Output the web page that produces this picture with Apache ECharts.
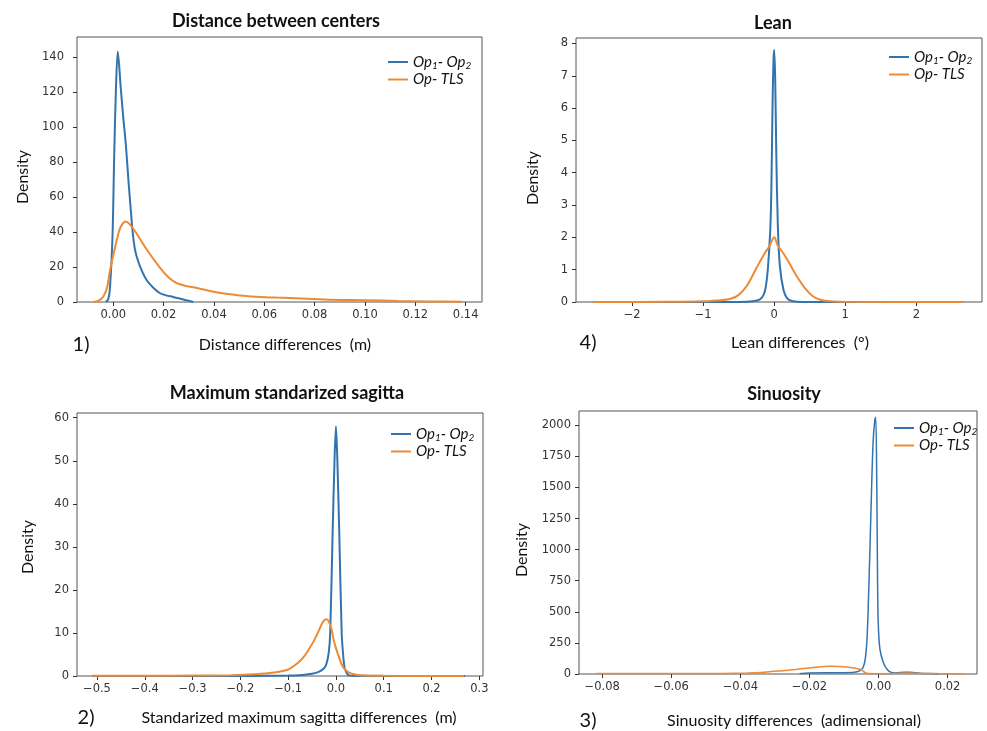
<!DOCTYPE html>
<html>
<head>
<meta charset="utf-8">
<script src="https://cdn.jsdelivr.net/npm/echarts@6/dist/echarts.min.js"></script>
<style>
  html, body { margin: 0; padding: 0; background: #fff; }
  #chart { width: 987px; height: 731px; }
</style>
</head>
<body>
<div id="chart"></div>
<script type="application/javascript">
// series names
const nameA = 'Op1- Op2';
const nameB = 'Op- TLS';

// 1) Distance between centers
const distOpOp = [[-0.003,0],[-0.002,1.5],[-0.0013,8],[-0.0003,37],[0.0004,85],[0.0011,123],[0.0018,143],[0.003,122],[0.004,105],[0.005,90],[0.006,70],[0.007,52],[0.0077,40],[0.0085,31],[0.0093,26],[0.0110,19],[0.0133,12.4],[0.0160,8],[0.0186,5],[0.0210,3.8],[0.0238,2.9],[0.0270,1.7],[0.0300,0.7],[0.0318,0]];
const distOpTls = [[-0.008,0],[-0.006,0.6],[-0.004,3],[-0.0025,8],[-0.0013,18],[0.0007,31],[0.0027,42],[0.0049,46],[0.0065,44.5],[0.0093,39],[0.0133,30],[0.0186,19.5],[0.0220,14],[0.0252,10.8],[0.0285,9.3],[0.0318,8.4],[0.0350,7.4],[0.0384,6.3],[0.0420,5.3],[0.0450,4.7],[0.0517,3.6],[0.0583,2.9],[0.0650,2.5],[0.0750,2.0],[0.0870,1.3],[0.1000,1.0],[0.1130,0.6],[0.1250,0.35],[0.1385,0.2]];
const distTicksX = [0, 0.02, 0.04, 0.06, 0.08, 0.10, 0.12, 0.14];
const distTicksY = [0, 20, 40, 60, 80, 100, 120, 140];

// 4) Lean
const leanOpOp = [[-2.55,0],[-0.5,0],[-0.3,0.02],[-0.2,0.08],[-0.15,0.22],[-0.12,0.45],[-0.09,1.0],[-0.056,2.2],[-0.04,3.5],[-0.024,6.0],[-0.01,7.5],[0,7.8],[0.014,6.9],[0.03,4.5],[0.052,2.3],[0.08,1.1],[0.13,0.38],[0.18,0.12],[0.25,0.03],[0.4,0],[2.65,0]];
const leanOpTls = [[-2.55,0],[-1.5,0.005],[-1.0,0.02],[-0.8,0.05],[-0.62,0.09],[-0.5,0.22],[-0.38,0.52],[-0.25,1.05],[-0.15,1.45],[-0.07,1.72],[0,2.0],[0.05,1.75],[0.13,1.5],[0.2,1.25],[0.32,0.79],[0.45,0.38],[0.55,0.17],[0.65,0.07],[0.8,0.02],[1.0,0.005],[2.65,0]];
const leanTicksX = [-2, -1, 0, 1, 2];
const leanTicksY = [0, 1, 2, 3, 4, 5, 6, 7, 8];

// 2) Maximum standarized sagitta
const sagOpOp = [[-0.51,0],[-0.2,0.02],[-0.1,0.1],[-0.07,0.25],[-0.05,0.5],[-0.035,1.0],[-0.025,1.8],[-0.02,2.8],[-0.015,5.5],[-0.012,10],[-0.007,33],[-0.003,50],[0,58],[0.003,50],[0.007,33],[0.012,10],[0.015,5],[0.018,2],[0.022,0.8],[0.026,0.2],[0.035,0.05],[0.27,0]];
const sagOpTls = [[-0.51,0.03],[-0.4,0.05],[-0.3,0.1],[-0.22,0.2],[-0.17,0.4],[-0.13,0.8],[-0.1,1.5],[-0.08,3],[-0.066,4.6],[-0.055,6.5],[-0.045,8.4],[-0.036,10.5],[-0.029,12.2],[-0.024,13.0],[-0.019,13.2],[-0.014,12.4],[-0.0095,11.0],[-0.004,8],[0.0035,5.3],[0.014,2.2],[0.022,1.2],[0.031,0.6],[0.05,0.2],[0.1,0.05],[0.268,0.01]];
const sagTicksX = [-0.5, -0.4, -0.3, -0.2, -0.1, 0.0, 0.1, 0.2, 0.3];
const sagTicksY = [0, 10, 20, 30, 40, 50, 60];

// 3) Sinuosity
const sinOpOp = [[-0.0228,4],[-0.02,9],[-0.015,11],[-0.01,11],[-0.007,14],[-0.0055,25],[-0.0045,50],[-0.0038,130],[-0.0033,300],[-0.0028,700],[-0.0022,1300],[-0.0016,1850],[-0.0011,2040],[-0.0008,2065],[-0.0005,1500],[-0.0003,800],[-0.0001,420],[0.0004,200],[0.0014,90],[0.0024,40],[0.0035,15],[0.005,9],[0.0075,14],[0.009,14],[0.012,7],[0.016,3],[0.0175,0]];
const sinOpTls = [[-0.0817,5],[-0.07,4],[-0.055,4],[-0.045,5],[-0.038,9],[-0.033,15],[-0.0286,25],[-0.024,37],[-0.0189,53],[-0.014,63],[-0.0092,57],[-0.0054,38],[-0.0039,12],[-0.003,4],[0.0,3],[0.005,4],[0.0075,9],[0.0095,8],[0.013,4],[0.018,3],[0.025,2]];
const sinTicksX = [-0.08, -0.06, -0.04, -0.02, 0.00, 0.02];
const sinTicksY = [0, 250, 500, 750, 1000, 1250, 1500, 1750, 2000];

const blue = '#3274ae';
const orange = '#ee8a34';
const minus = v => String(v).replace('-', '\u2212');

const chart = echarts.init(document.getElementById('chart'));

function xAxisOf(i, min, max, ticks, digits) {
  return {
    type: 'value', gridIndex: i, min, max,
    axisLine: { show: false, onZero: false },
    splitLine: { show: false },
    axisTick: { show: true, customValues: ticks, length: 4, lineStyle: { color: '#333' } },
    axisLabel: {
      customValues: ticks, margin: 7, color: '#333',
      fontFamily: 'DejaVu Sans', fontSize: 11.5,
      formatter: v => minus(v.toFixed(digits))
    }
  };
}

function yAxisOf(i, max, ticks, margin) {
  return {
    type: 'value', gridIndex: i, min: 0, max,
    axisLine: { show: false, onZero: false },
    splitLine: { show: false },
    axisTick: { show: true, customValues: ticks, length: 4, lineStyle: { color: '#333' } },
    axisLabel: {
      customValues: ticks, margin, color: '#333',
      fontFamily: 'DejaVu Sans', fontSize: 11.5,
      formatter: v => String(v)
    }
  };
}

function lineOf(i, name, data, color, width) {
  return {
    name, type: 'line', xAxisIndex: i, yAxisIndex: i,
    data, smooth: 0.3, showSymbol: false,
    lineStyle: { color, width }, itemStyle: { color }
  };
}

function legendOf(left, top) {
  return {
    left, top, orient: 'vertical', icon: 'rect', itemWidth: 20, itemHeight: 2,
    itemGap: 1, selectedMode: false, data: [nameA, nameB],
    formatter: n => n === nameA ? '{a|Op}{b|1}{a|- Op}{b|2}' : '{a|Op- TLS}',
    textStyle: {
      rich: {
        a: { fontFamily: 'Lato', fontStyle: 'italic', fontSize: 15, lineHeight: 17, color: '#111' },
        b: { fontFamily: 'Lato', fontStyle: 'italic', fontSize: 10, lineHeight: 9, padding: [8, 0, 0, 0], color: '#111' }
      }
    }
  };
}

function text(x, y, str, font, rotate) {
  return {
    type: 'text', x, y, rotation: rotate ? Math.PI / 2 : 0,
    style: { text: str, font, fill: '#111', textAlign: 'center', textVerticalAlign: 'middle' }
  };
}

const titleFont = 'bold 18px Lato';
const labelFont = '16px Lato';
const numFont = '20px Lato';

const option = {
  animation: false,
  backgroundColor: '#fff',
  grid: [
    { left: 77, top: 37, width: 405, height: 265, show: true, borderColor: '#555', borderWidth: 1 },
    { left: 576, top: 38, width: 406, height: 264, show: true, borderColor: '#555', borderWidth: 1 },
    { left: 77, top: 413, width: 406, height: 263, show: true, borderColor: '#555', borderWidth: 1 },
    { left: 579, top: 411, width: 398, height: 263, show: true, borderColor: '#555', borderWidth: 1 }
  ],
  xAxis: [
    xAxisOf(0, -0.0144, 0.1465, distTicksX, 2),
    xAxisOf(1, -2.79, 2.925, leanTicksX, 0),
    xAxisOf(2, -0.5418, 0.3077, sagTicksX, 1),
    xAxisOf(3, -0.0867, 0.0285, sinTicksX, 2)
  ],
  yAxis: [
    yAxisOf(0, 151.3, distTicksY, 13),
    yAxisOf(1, 8.17, leanTicksY, 8),
    yAxisOf(2, 61.1, sagTicksY, 8),
    yAxisOf(3, 2115, sinTicksY, 8)
  ],
  legend: [
    legendOf(383, 48),
    legendOf(884, 43),
    legendOf(386, 420),
    legendOf(889, 414)
  ],
  series: [
    lineOf(0, nameA, distOpOp, blue, 2),
    lineOf(0, nameB, distOpTls, orange, 2),
    lineOf(1, nameA, leanOpOp, blue, 2),
    lineOf(1, nameB, leanOpTls, orange, 2),
    lineOf(2, nameA, sagOpOp, blue, 2),
    lineOf(2, nameB, sagOpTls, orange, 2),
    lineOf(3, nameA, sinOpOp, blue, 1.5),
    lineOf(3, nameB, sinOpTls, orange, 1.5)
  ],
  graphic: [
    text(276, 21, 'Distance between centers', titleFont),
    text(773, 23, 'Lean', titleFont),
    text(287, 393, 'Maximum standarized sagitta', titleFont),
    text(784, 394, 'Sinuosity', titleFont),
    text(285, 345, 'Distance differences  (m)', labelFont),
    text(800, 343, 'Lean differences  (°)', labelFont),
    text(299, 718, 'Standarized maximum sagitta differences  (m)', labelFont),
    text(794, 721, 'Sinuosity differences  (adimensional)', labelFont),
    text(81, 345, '1)', numFont),
    text(588, 343, '4)', numFont),
    text(86, 718, '2)', numFont),
    text(588, 721, '3)', numFont),
    text(23, 177, 'Density', labelFont, true),
    text(533, 178, 'Density', labelFont, true),
    text(28, 547, 'Density', labelFont, true),
    text(522, 550, 'Density', labelFont, true)
  ]
};

chart.setOption(option);
</script>
</body>
</html>
